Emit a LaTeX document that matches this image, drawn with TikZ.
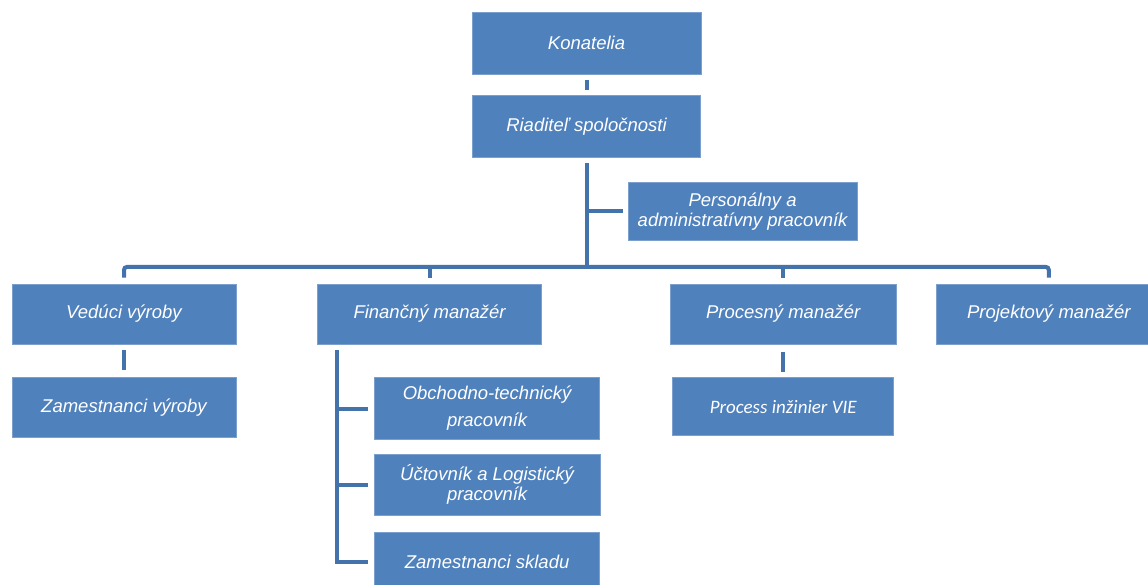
\documentclass[tikz,border=0pt]{standalone}
\usepackage{fontspec}
\setmainfont{Liberation Sans}
\newfontfamily\calibrifont{Carlito}
\usetikzlibrary{positioning}
\definecolor{boxblue}{RGB}{79,129,189}
\definecolor{lineblue}{RGB}{68,114,170}

\begin{document}
\begin{tikzpicture}[x=1pt, y=-1pt,
                box/.style={fill=boxblue, draw=boxblue!75!white, line width=0.6pt, text=white,
                            minimum width=226pt, minimum height=61pt, inner sep=2pt,
                            align=center, font=\fontsize{18.5}{20}\selectfont\itshape},
                link/.style={draw=lineblue, line width=4pt}]

                \useasboundingbox (0,0) rectangle (1148,584);

                % top of the chart
                \node[box, minimum width=229pt, minimum height=62pt] (kon) at (586.5,43) {Konatelia};
                \node[box, minimum width=228pt, minimum height=62pt, below=21pt of kon] (riad) {Riaditeľ spoločnosti};
                \node[box, minimum width=229pt, minimum height=58pt, below=24pt of riad.south east,
                      anchor=north west, xshift=-73pt] (pers) {Personálny a\\administratívny pracovník};

                % managers - placed next to each other
                \node[box, minimum width=224pt, minimum height=60pt] (ved) at (124,314) {Vedúci výroby};
                \node[box, minimum width=224pt, minimum height=60pt, right=81pt of ved] (fin) {Finančný manažér};
                \node[box, minimum height=60pt, right=128pt of fin] (proc) {Procesný manažér};
                \node[box, minimum height=60pt, right=39pt of proc] (proj) {Projektový manažér};

                % staff below the managers
                \node[box, minimum width=224pt, minimum height=60pt, below=33pt of ved] (zamv) {Zamestnanci výroby};
                \node[box, minimum width=225pt, minimum height=62pt, below=33pt of fin.south west,
                      anchor=north west, xshift=57pt] (obch) {Obchodno-technický\\[7pt]pracovník};
                \node[box, minimum height=61pt, below=14pt of obch] (uct) {Účtovník a Logistický\\pracovník};
                \node[box, minimum width=225pt, minimum height=60pt, below=16pt of uct] (zams) {Zamestnanci skladu};
                \node[box, minimum width=221pt, minimum height=58pt, below=33pt of proc,
                      font=\fontsize{19}{20}\selectfont\calibrifont\itshape] (vie) {Process inžinier VIE};

                % connections from the top
                \draw[link, shorten <=6pt, shorten >=5pt] (kon) -- (riad);
                \coordinate (bus) at ([yshift=-109pt]riad.south);
                \draw[link, shorten <=5pt] (riad) -- (bus);
                \draw[link, shorten >=5pt] (riad |- pers) -- (pers);
                \draw[link, rounded corners=3pt] ([yshift=6pt]ved.north) |- (bus) -| ([yshift=6pt]proj.north);
                \draw[link] (fin.north |- bus) -- ([yshift=6pt]fin.north);
                \draw[link] (proc.north |- bus) -- ([yshift=6pt]proc.north);

                % connections to the staff
                \draw[link, shorten <=6pt, shorten >=7pt] (ved) -- (zamv);
                \draw[link, shorten <=8pt, shorten >=5pt] (proc.south) -- (proc.south |- vie.north);
                \coordinate (ftr) at ([xshift=20pt, yshift=-6pt]fin.south west);
                \draw[link] (ftr) |- ([xshift=-6pt]zams.west);
                \draw[link, shorten >=6pt] (ftr |- obch) -- (obch);
                \draw[link, shorten >=6pt] (ftr |- uct) -- (uct);
            \end{tikzpicture}
\end{document}
